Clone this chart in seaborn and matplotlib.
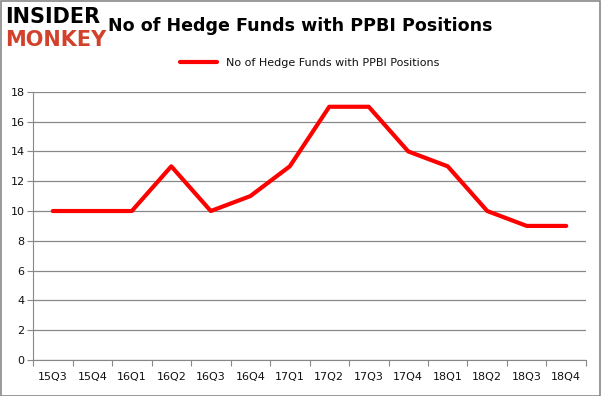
import numpy as np
import pandas as pd
import seaborn as sns
import matplotlib.pyplot as plt

# quarters and hedge fund counts
quarters = ["15Q3", "15Q4", "16Q1", "16Q2", "16Q3", "16Q4", "17Q1",
            "17Q2", "17Q3", "17Q4", "18Q1", "18Q2", "18Q3", "18Q4"]
funds = [10, 10, 10, 13, 10, 11, 13, 17, 17, 14, 13, 10, 9, 9]
y_ticks = [0, 2, 4, 6, 8, 10, 12, 14, 16, 18]

df = pd.DataFrame({"quarter": quarters, "funds": funds})
df["pos"] = np.arange(len(quarters))

sns.set_style("white")
plt.rcParams['font.family'] = ['DejaVu Sans']
plt.rcParams['text.color'] = '#111111'
plt.rcParams['xtick.color'] = '#111111'
plt.rcParams['ytick.color'] = '#111111'

fig = plt.figure(figsize=(6.01, 3.96), dpi=100)
ax = fig.add_axes([0.055, 0.091, 0.92, 0.677])

sns.lineplot(data=df, x="pos", y="funds", color="#ff0000", linewidth=3,
             label="No of Hedge Funds with PPBI Positions", ax=ax)

ax.set_xlim(-0.5, len(quarters) - 0.5)
ax.set_ylim(0, 18)
ax.set_yticks(y_ticks)
ax.set_yticklabels([str(t) for t in y_ticks], fontsize=8)
ax.yaxis.grid(True, color="#888888", linewidth=0.9)

# tick marks between categories, labels centred on them
ax.set_xticks(np.arange(len(quarters) + 1) - 0.5)
ax.set_xticklabels([])
ax.set_xticks(df["pos"], minor=True)
ax.set_xticklabels(quarters, minor=True, fontsize=8)
ax.tick_params(axis="x", which="major", bottom=True, length=4,
               color="#888888", direction="out")
ax.tick_params(axis="x", which="minor", bottom=True, length=0, pad=9)
ax.tick_params(axis="y", left=True, length=4, color="#888888",
               direction="out", pad=2)
ax.set_xlabel("")
ax.set_ylabel("")

for side in ["top", "right"]:
    ax.spines[side].set_visible(False)
for side in ["left", "bottom"]:
    ax.spines[side].set_color("#888888")

ax.legend(loc="upper center", bbox_to_anchor=(0.5, 1.165), frameon=False,
          fontsize=8, handlelength=3.3)

fig.text(0.5, 0.935, "No of Hedge Funds with PPBI Positions", ha="center",
         va="center", fontsize=12.6, fontweight="bold", color="black")
fig.text(0.009, 0.957, "INSIDER", ha="left", va="center", fontsize=15,
         fontweight="heavy", color="black")
fig.text(0.009, 0.9, "MONKEY", ha="left", va="center", fontsize=15,
         fontweight="heavy", color="#d2412c")

# grey frame round the figure
fig.patches.append(plt.Rectangle((0.001, 0.001), 0.997, 0.996, fill=False,
                                 edgecolor="#888888", linewidth=1.2,
                                 transform=fig.transFigure))

fig.savefig("out.png", dpi=100)
